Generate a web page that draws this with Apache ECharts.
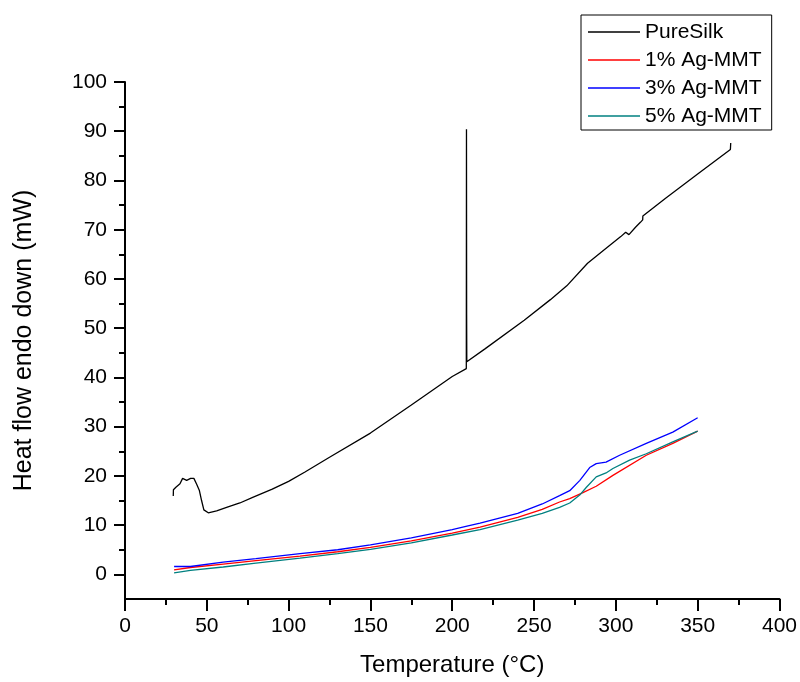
<!DOCTYPE html>
<html>
<head>
<meta charset="utf-8">
<script src="https://cdn.jsdelivr.net/npm/echarts@6/dist/echarts.min.js"></script>
<style>html,body{margin:0;padding:0;background:#fff}#c{width:800px;height:682px}</style>
</head>
<body>
<div id="c"></div>
<script>
const seriesNames = ['PureSilk', '1% Ag-MMT', '3% Ag-MMT', '5% Ag-MMT'];
const pureSilk = [[29.5,15.9],[29.6,17.2],[31.1,17.7],[33.6,18.4],[35.2,19.5],[37.7,19.1],[40.1,19.5],[42.1,19.5],[43.8,18.3],[45.4,17.1],[46.8,15.0],[48.2,13.1],[50.9,12.5],[56,12.9],[62.1,13.6],[70.2,14.5],[78.4,15.7],[79,15.6],[90,17.3],[100,18.9],[110,20.8],[125,23.8],[150,28.7],[175,34.4],[200,40.2],[208.6,41.8],[208.7,90.4],[208.8,52.6],[208.9,43.2],[220,45.8],[244,51.6],[260,55.8],[270,58.6],[282.7,63.2],[295,66.5],[303,68.6],[304,68.2],[306,69.5],[308,69.0],[312,70.5],[315,71.5],[316.4,72.0],[316.5,72.8],[330,76.3],[350,81.3],[370,86.3],[370.2,87.6]];
const agmmt1 = [[30,0.9],[40,1.4],[60,2.1],[80,2.8],[107,3.7],[130,4.6],[150,5.5],[175,6.8],[200,8.4],[217,9.6],[240,11.6],[255,13.2],[265.6,14.7],[271.8,15.4],[279.9,16.6],[288,17.9],[298.2,20.1],[318.6,24.2],[334.8,26.6],[350,29.1]];
const agmmt3 = [[30,1.6],[30.2,1.2],[40,1.6],[60,2.5],[80,3.2],[107,4.2],[130,5.0],[150,6.0],[175,7.4],[200,9.1],[209,9.8],[210,10.2],[217,10.4],[240,12.4],[255,14.3],[265.6,16.0],[271.8,17.0],[278,19.1],[284,21.7],[288,22.5],[294,22.8],[302.3,24.2],[318.6,26.6],[334.8,28.9],[350,31.8]];
const agmmt5 = [[30,0.3],[40,0.8],[60,1.5],[80,2.3],[107,3.3],[130,4.2],[150,5.1],[175,6.4],[200,8.0],[217,9.1],[240,11.0],[255,12.4],[265.6,13.6],[271.8,14.5],[277.9,16.1],[282,17.7],[288,19.8],[294,20.6],[298.2,21.5],[308.4,23.2],[318.6,24.5],[334.8,26.9],[350,29.1]];
const yMajorTicks = [0,10,20,30,40,50,60,70,80,90,100];
const yMinorTicks = [5,15,25,35,45,55,65,75,85,95];
const colors = ['#000000', '#ff0000', '#0000ff', '#008080'];
const datasets = [pureSilk, agmmt1, agmmt3, agmmt5];

const font = '"Liberation Sans", Arial, sans-serif';
const chart = echarts.init(document.getElementById('c'), null, {renderer: 'canvas'});
chart.setOption({
  animation: false,
  backgroundColor: '#ffffff',
  grid: {left: 125, right: 20, top: 82, bottom: 83, containLabel: false},
  legend: {
    orient: 'vertical', left: 581, top: 15,
    padding: [6, 10, 3, 7],
    borderColor: '#000', borderWidth: 1, backgroundColor: '#fff',
    icon: 'rect',
    itemWidth: 52, itemHeight: 1.5, itemGap: 6,
    textStyle: {fontFamily: font, fontSize: 21, color: '#000', lineHeight: 22},
    data: seriesNames
  },
  xAxis: {
    type: 'value', min: 0, max: 400, interval: 50,
    name: 'Temperature (°C)', nameLocation: 'middle', nameGap: 54,
    nameTextStyle: {fontFamily: font, fontSize: 24, color: '#000'},
    axisLine: {show: true, onZero: false, lineStyle: {color: '#000', width: 2}},
    axisTick: {show: true, inside: false, length: 12, lineStyle: {color: '#000', width: 2}},
    minorTick: {show: true, splitNumber: 2, length: 6, lineStyle: {color: '#000', width: 2}},
    axisLabel: {fontFamily: font, fontSize: 21, color: '#000', margin: 17},
    splitLine: {show: false}
  },
  yAxis: [{
    type: 'value', min: -5, max: 100,
    name: 'Heat flow endo down (mW)', nameLocation: 'middle', nameGap: 88, nameRotate: 90,
    nameTextStyle: {fontFamily: font, fontSize: 25, color: '#000'},
    axisLine: {show: true, onZero: false, lineStyle: {color: '#000', width: 2}},
    axisTick: {show: true, length: 11, customValues: yMajorTicks, lineStyle: {color: '#000', width: 2}},
    axisLabel: {fontFamily: font, fontSize: 21, color: '#000', margin: 18, customValues: yMajorTicks},
    splitLine: {show: false}
  }, {
    type: 'value', min: -5, max: 100, position: 'left', offset: 0,
    axisLine: {show: false},
    axisTick: {show: true, length: 6, customValues: yMinorTicks, lineStyle: {color: '#000', width: 2}},
    axisLabel: {show: false},
    splitLine: {show: false}
  }],
  series: seriesNames.map((n, i) => ({
    name: n, type: 'line', yAxisIndex: 0, data: datasets[i],
    symbol: 'none', smooth: false,
    lineStyle: {color: colors[i], width: 1.3},
    itemStyle: {color: colors[i]}
  }))
});
</script>
</body>
</html>
